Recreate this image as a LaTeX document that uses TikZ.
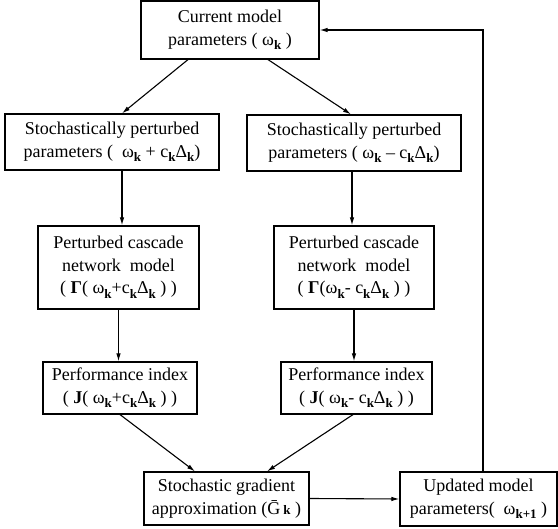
\documentclass[tikz,border=0pt]{standalone}
\usepackage{fontspec}
\setmainfont{Liberation Serif}
\newfontfamily\tms{Liberation Serif}
\usetikzlibrary{arrows.meta,calc}
\newcommand{\lo}[1]{\raisebox{-.55ex}{\fontsize{13}{13}\selectfont\bfseries #1}}

\begin{document}
\begin{tikzpicture}[x=1pt,y=-1pt,>={Latex[length=8pt,width=4.5pt]},line width=1.1pt,
  blk/.style={draw,line width=1.2pt,inner sep=0pt,align=center,font=\tms\fontsize{18}{22.5}\selectfont}]
\useasboundingbox (0,0) rectangle (558,529);
\node[blk,minimum width=178pt,minimum height=58pt] (cur) at (230,30) {Current model\\parameters ( ω\lo{k} )};
\node[blk,minimum width=214pt,minimum height=56pt] (sl) at (112,142) {Stochastically perturbed\\parameters (~ ω\lo{k} + c\lo{k}Δ\lo{k})};
\node[blk,minimum width=214pt,minimum height=56pt] (sr) at (354,143) {Stochastically perturbed\\parameters ( ω\lo{k} – c\lo{k}Δ\lo{k})};
\node[blk,minimum width=161pt,minimum height=83pt] (pl) at (118.5,267.5) {Perturbed cascade\\network~ model\\( \textbf{Γ}( ω\lo{k}+c\lo{k}Δ\lo{k} ) )};
\node[blk,minimum width=160pt,minimum height=83pt] (pr) at (354,267.5) {Perturbed cascade\\network~ model\\( \textbf{Γ}(ω\lo{k}- c\lo{k}Δ\lo{k} ) )};
\node[blk,minimum width=154pt,minimum height=52pt] (jl) at (120,388) {Performance index\\( \textbf{J}( ω\lo{k}+c\lo{k}Δ\lo{k} ) )};
\node[blk,minimum width=151pt,minimum height=52pt] (jr) at (356.5,388) {Performance index\\( \textbf{J}( ω\lo{k}- c\lo{k}Δ\lo{k} ) )};
\node[blk,minimum width=165pt,minimum height=53pt] (gr) at (226.5,498.5) {Stochastic gradient\\approximation (\={G}\,{\fontsize{13}{13}\selectfont\bfseries k} )};
\node[blk,minimum width=157pt,minimum height=54pt] (up) at (478.5,499) {Updated model\\parameters(~ ω\lo{k+1} )};
\draw[->] ([xshift=-42pt]cur.south) -- ([xshift=10pt]sl.north);
\draw[->] ([xshift=38pt]cur.south) -- ([xshift=-3pt]sr.north);
\draw[->] ([xshift=10pt]sl.south) -- ([xshift=3.5pt]pl.north);
\draw[->] ([xshift=-2pt]sr.south) -- ([xshift=-2pt]pr.north);
\draw[->] (pl.south) -- (pl.south |- jl.north);
\draw[->] (pr.south) -- (pr.south |- jr.north);
\draw[->] (jl.south) -- ([xshift=-31.5pt]gr.north);
\draw[->] ([xshift=-3.5pt]jr.south) -- ([xshift=40.5pt]gr.north);
\draw[->] (gr.east) -- (up.west);
\draw[->] ([xshift=4.5pt]up.north) |- (cur.east);
\end{tikzpicture}
\end{document}
